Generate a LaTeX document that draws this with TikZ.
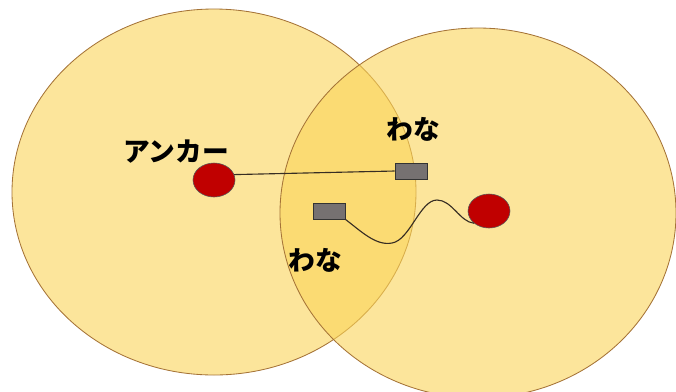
\documentclass[tikz,border=0pt]{standalone}
\usepackage{fontspec}
\usepackage{tikz}
\usetikzlibrary{shapes.geometric}
\newfontfamily\jpfont{Noto Sans CJK JP}
\definecolor{zonefill}{RGB}{250,212,88}
\definecolor{zoneedge}{RGB}{165,115,55}
\definecolor{anchorred}{RGB}{192,0,0}
\definecolor{trapgray}{RGB}{118,113,113}
\definecolor{wirecol}{RGB}{55,45,35}
\tikzset{
  zone/.style={fill=zonefill, fill opacity=0.6, draw=zoneedge, line width=0.6pt},
  anchordot/.style={ellipse, draw=gray!70!black, fill=anchorred, line width=0.4pt,
                    minimum width=1.05cm, minimum height=0.85cm, inner sep=0pt},
  trapbox/.style={rectangle, draw=black!80, fill=trapgray, line width=0.4pt,
                  minimum width=0.8cm, minimum height=0.4cm, inner sep=0pt},
  lbl/.style={font=\jpfont\bfseries\fontsize{19}{20}\selectfont, inner sep=0pt},
  wire/.style={draw=wirecol, line width=0.8pt}
}
\begin{document}
\begin{tikzpicture}[x=0.025cm, y=-0.025cm]
  \useasboundingbox (0,0) rectangle (676,391);
  \clip (0,0) rectangle (676,391);
  % coverage areas
  \filldraw[zone] (214,192) ellipse [x radius=202, y radius=183];
  \filldraw[zone] (478,213) ellipse [x radius=198, y radius=185];
  % anchors and traps
  \node[anchordot] (anchorL) at (214,180) {};
  \node[anchordot] (anchorR) at (489,211) {};
  \node[trapbox] (trapA) at (411,171) {};
  \node[trapbox] (trapB) at (329,211) {};
  % labels
  \node[lbl] (lblAnchor) at (176,152) {アンカー};
  \node[lbl] (lblTrapA) at (413,129) {わな};
  \node[lbl] (lblTrapB) at (315,260) {わな};
  % lines
  \draw[wire] (anchorL.15) -- (trapA.west);
  \draw[wire] (trapB.south east) .. controls (362,232) and (376,246) .. (392,243)
        .. controls (410,240) and (420,200) .. (437,200)
        .. controls (452,200) and (460,222) .. (anchorR.south west);
\end{tikzpicture}
\end{document}
